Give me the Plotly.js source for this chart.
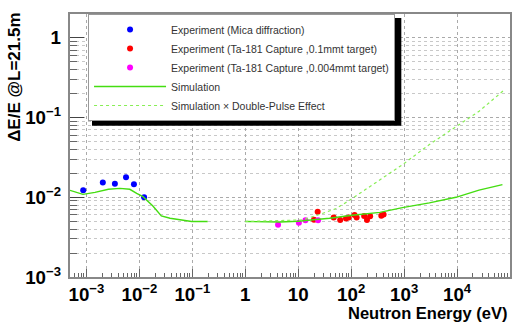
<!DOCTYPE html>
<html>
<head>
<meta charset="utf-8">
<script src="https://cdn.plot.ly/plotly-3.0.1.min.js"></script>
<style>html,body{margin:0;padding:0;background:#fff;}#chart{width:523px;height:325px;}</style>
</head>
<body>
<div id="chart"></div>
<script>
// Experiment (Mica diffraction)
const micaE = [8.7e-4, 2.04e-3, 3.45e-3, 5.6e-3, 7.9e-3, 1.23e-2];
const micaRes = [0.0123, 0.0153, 0.0148, 0.0179, 0.0146, 0.0100];
// Experiment (Ta-181 Capture, 0.1mmt target)
const ta01E = [19.9, 23.3, 46.8, 62, 79.8, 89.7, 116, 127, 176, 199, 228, 371, 410];
const ta01Res = [0.00523, 0.00659, 0.00557, 0.00519, 0.00542, 0.00557, 0.00599, 0.00557, 0.00583, 0.0052, 0.00579, 0.00587, 0.00608];
// Experiment (Ta-181 Capture, 0.004mmt target)
const ta004E = [4.16, 10.3, 13.7, 23.7];
const ta004Res = [0.00451, 0.0048, 0.00516, 0.00516];
// Simulation (gap between ~0.2 eV and 1 eV)
const simE = [4.9e-4, 8.6e-4, 1.45e-3, 2.6e-3, 4.3e-3, 6.6e-3, 8.9e-3, 1.17e-2, 1.8e-2, 2.6e-2, 3.8e-2, 5.8e-2, 9.7e-2, 0.195, 0.5, 1.0, 4.5, 9.8, 39, 105, 350, 930, 3000, 9500, 26000, 72000];
const simRes = [0.01224, 0.0109, 0.01155, 0.0126, 0.01296, 0.0126, 0.0112, 0.0102, 0.00778, 0.00583, 0.00546, 0.0052, 0.00497, 0.00497, null, 0.00497, 0.0049, 0.00501, 0.00546, 0.00596, 0.00646, 0.00741, 0.00851, 0.0100, 0.0123, 0.01445];
// Simulation x Double-Pulse Effect
const dpE = [1.0, 5.0, 12, 26, 52, 93, 300, 950, 3000, 9700, 26000, 79000];
const dpRes = [0.00497, 0.00508, 0.0052, 0.00613, 0.00723, 0.00917, 0.0155, 0.0259, 0.046, 0.0778, 0.120, 0.224];

const names = [
  'Experiment (Mica diffraction)',
  'Experiment (Ta-181 Capture ,0.1mmt target)',
  'Experiment (Ta-181 Capture ,0.004mmt target)',
  'Simulation',
  'Simulation \u00d7 Double-Pulse Effect'
];

const traces = [
  {x: micaE, y: micaRes, name: names[0], mode: 'markers', type: 'scatter', marker: {color: '#0000ff', size: 6}},
  {x: ta01E, y: ta01Res, name: names[1], mode: 'markers', type: 'scatter', marker: {color: '#ff0000', size: 6}},
  {x: ta004E, y: ta004Res, name: names[2], mode: 'markers', type: 'scatter', marker: {color: '#ff00ff', size: 6}},
  {x: simE, y: simRes, name: names[3], mode: 'lines', type: 'scatter', connectgaps: false, line: {color: '#44dd11', width: 1.4}},
  {x: dpE, y: dpRes, name: names[4], mode: 'lines', type: 'scatter', line: {color: '#88ee55', width: 1.2, dash: 'dot'}}
];

const tickFont = {family: 'Liberation Sans, Arial, sans-serif', size: 15, color: '#000', weight: 'bold'};

const layout = {
  width: 523, height: 325,
  margin: {l: 70, r: 13, t: 14, b: 48},
  paper_bgcolor: '#fff', plot_bgcolor: '#fff',
  showlegend: true,
  legend: {
    x: 0.041, y: 1, xanchor: 'left', yanchor: 'top',
    bgcolor: '#fff', bordercolor: '#999', borderwidth: 1,
    font: {family: 'Liberation Sans, Arial, sans-serif', size: 10.5, color: '#333'},
    itemwidth: 72, tracegroupgap: 0
  },
  shapes: [
    {type: 'rect', xref: 'paper', yref: 'paper', x0: 0.05, x1: 0.753, y0: 0.575, y1: 0.985,
     fillcolor: '#000', line: {width: 0}, layer: 'above'}
  ],
  xaxis: {
    type: 'log', range: [-3.31, 5.0],
    showline: true, linecolor: '#888', linewidth: 2, mirror: true,
    ticks: 'inside', ticklen: 8, tickcolor: '#666', tickwidth: 1,
    dtick: 1, exponentformat: 'power',
    showgrid: true, gridcolor: '#aaa', griddash: 'dot', gridwidth: 1,
    zeroline: false,
    tickfont: tickFont,
    minor: {ticks: 'inside', ticklen: 4, tickcolor: '#666', dtick: 'D1', showgrid: false}
  },
  yaxis: {
    type: 'log', range: [-3, 0.3],
    showline: true, linecolor: '#888', linewidth: 2, mirror: true,
    ticks: 'inside', ticklen: 14, tickcolor: '#444', tickwidth: 1,
    dtick: 1, exponentformat: 'power',
    showgrid: true, gridcolor: '#aaa', griddash: 'dot', gridwidth: 1,
    zeroline: false,
    tickfont: tickFont,
    ticklabelstandoff: 4,
    minor: {ticks: 'inside', ticklen: 7, tickcolor: '#666', dtick: 'D1', showgrid: true, gridcolor: '#c8c8c8', griddash: 'dot'}
  },
  annotations: [
    {text: '\u0394E/E @L=21.5m', xref: 'paper', yref: 'paper', x: -0.125, y: 1.01, xanchor: 'center', yanchor: 'top',
     textangle: -90, showarrow: false, font: {family: 'Liberation Sans, Arial, sans-serif', size: 17, color: '#000', weight: 'bold'}},
    {text: 'Neutron Energy (eV)', xref: 'paper', yref: 'paper', x: 1.0, y: -0.095, xanchor: 'right', yanchor: 'top',
     showarrow: false, font: {family: 'Liberation Sans, Arial, sans-serif', size: 16.5, color: '#000', weight: 'bold'}}
  ]
};

Plotly.newPlot('chart', traces, layout, {displayModeBar: false, staticPlot: true});
</script>
</body>
</html>
